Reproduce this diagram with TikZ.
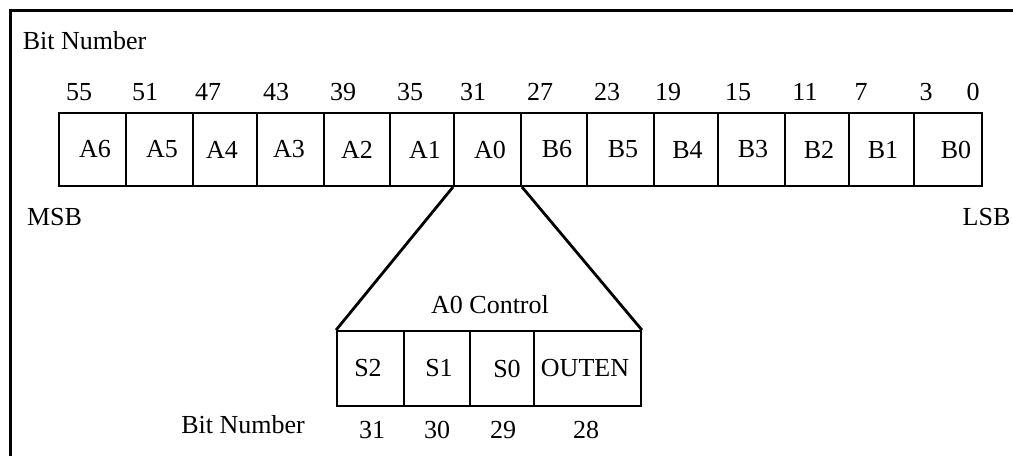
\documentclass[tikz,border=0pt]{standalone}
\usepackage{fontspec}
\setmainfont{Liberation Serif}
\begin{document}
\begin{tikzpicture}[x=1pt,y=-1pt,
  every node/.style={font=\fontsize{26}{30}\selectfont},
  cell/.style={draw,line width=1.9pt,rectangle,inner sep=0pt},
  lbl/.style={anchor=base,inner sep=0pt},
  frame/.style={line width=3pt},
  zoomline/.style={line width=2.8pt}]
\useasboundingbox (0,0) rectangle (1013,456);
% frame
\coordinate (fa) at (10,456);
\coordinate (fb) at (10,10);
\coordinate (fc) at (1013,10);
\draw[frame] (fa) -- (fb) -- (fc);
% top title
\node[lbl] (title) at (84.5,49) {Bit Number};
% top register cells (left edge / right edge / text / text offset*2)
\foreach \l/\r/\t/\o [count=\i] in {59/126/A6/5,126/193/A5/5,193/257/A4/-6,257/324/A3/-3,324/390/A2/0,390/454/A1/6,454/521/A0/5,521/587/B6/6,587/654/B5/5,654/718/B4/3,718/785/B3/3,785/849/B2/4,849/914/B1/3,914/982/B0/16}
  \node[cell,minimum width={\r-\l},minimum height=73] (t\i) at ({(\l+\r)/2},149.5) {\hspace*{\o pt}\t};
% bit numbers above
\foreach \x/\n [count=\i] in {79/55,145/51,208/47,276/43,343/39,410/35,473/31,540/27,607/23,668/19,738/15,805/11,861/7,926/3,973/0}
  \node[lbl] (n\i) at (\x,100) {\n};
\node[lbl] (msb) at (54.5,225) {MSB};
\node[lbl] (lsb) at (986.5,225) {LSB};
% bottom register cells
\foreach \l/\r/\t/\o [count=\i] in {337/404/S2/-5,404/470/S1/4,470/534/S0/10,534/641/OUTEN/-5}
  \node[cell,minimum width={\r-\l},minimum height=75] (s\i) at ({(\l+\r)/2},368.5) {\hspace*{\o pt}\t};
\node[lbl] (ctl) at (490,313) {A0 Control};
% zoom lines
\draw[zoomline] (t7.south west) -- (s1.north west);
\draw[zoomline] (t7.south east) -- (s4.north east);
% bottom bit numbers
\node[lbl] (bt) at (243,433) {Bit Number};
\foreach \x/\n [count=\i] in {372/31,437/30,503/29,586/28}
  \node[lbl] (m\i) at (\x,438) {\n};
\end{tikzpicture}
\end{document}
